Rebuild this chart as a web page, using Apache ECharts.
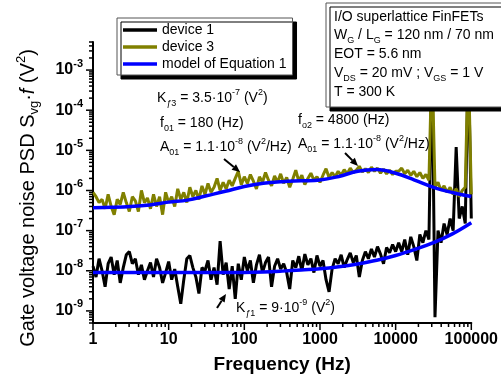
<!DOCTYPE html>
<html>
<head>
<meta charset="utf-8">
<script src="https://cdn.jsdelivr.net/npm/echarts@6/dist/echarts.min.js"></script>
<style>
  html, body { margin: 0; padding: 0; background: #fff; }
  #chart { width: 501px; height: 385px; }
</style>
</head>
<body>
<div id="chart"></div>
<script>
const xMin = 1, xMax = 100000, yMin = 5e-10, yMax = 5e-3;
const xTickLabels = ['1', '10', '100', '1000', '10000', '100000'];
const yTickExponents = ['-9', '-8', '-7', '-6', '-5', '-4', '-3'];

// measured curves, one point every 0.04 decade starting at 1 Hz
const device1 = [
  1.3e-8, 7e-9, 2e-8, 1e-8, 4e-9, 1.5e-8, 2.2e-8, 8e-9, 1.8e-8, 5e-9,
  1.2e-8, 2.5e-8, 3e-8, 1.5e-8, 2e-8, 8e-9, 1.4e-8, 6e-9, 1e-8, 1.6e-8,
  7e-9, 2e-8, 1.2e-8, 5e-9, 9e-9, 1.7e-8, 6e-9, 1.1e-8, 4e-9, 1.5e-9,
  6e-9, 2e-8, 2.4e-8, 1.2e-8, 7e-9, 2.7e-9, 1.2e-8, 1e-8, 1.8e-8, 6e-9,
  1.2e-8, 4.5e-9, 5.5e-8, 8e-9, 1.6e-8, 3.5e-9, 1.3e-8, 2e-9, 1.5e-8, 6e-9,
  2.2e-8, 1e-8, 1.8e-8, 5e-9, 1.4e-8, 2.5e-8, 9e-9, 1.6e-8, 2.2e-8, 4e-9,
  1.3e-8, 2e-8, 1.1e-8, 1.5e-8, 9e-9, 3.5e-9, 1.8e-8, 1.2e-8, 2.3e-8, 1e-8,
  2.6e-8, 1.4e-8, 2e-8, 9e-9, 2.4e-8, 1.3e-8, 1.8e-8, 6e-9, 3e-9, 1.1e-8,
  2e-8, 1.5e-8, 2.5e-8, 1.2e-8, 1.9e-8, 2.8e-8, 1.6e-8, 2.4e-8, 7e-9, 1.8e-8,
  3e-8, 2e-8, 3.5e-8, 2.2e-8, 4e-8, 2.6e-8, 1.5e-8, 3.8e-8, 2.8e-8, 4.5e-8,
  3e-8, 5e-8, 3e-8, 6e-8, 2.5e-8, 7e-8, 4e-8, 1.8e-8, 8e-8, 5e-8,
  1e-7, 6e-8, 3e-3, 7e-10, 1e-7, 5e-8, 1.5e-7, 8e-8, 2e-7, 1e-7,
  1.2e-5, 2e-7, 4e-7, 1.5e-7, 2e-3, 2e-7
];
const device3 = [
  9e-7, 7e-7, 5e-7, 6e-7, 3.5e-7, 8e-7, 4e-7, 2.5e-7, 6e-7, 4.5e-7,
  9e-7, 5e-7, 3e-7, 7e-7, 5.5e-7, 3e-7, 1e-6, 5e-7, 6.5e-7, 3.5e-7,
  8e-7, 4e-7, 7e-7, 2.5e-7, 9e-7, 5e-7, 7e-7, 4e-7, 1.1e-6, 6e-7,
  9e-7, 5e-7, 1.2e-6, 7e-7, 1e-6, 6e-7, 1.3e-6, 8e-7, 1.5e-6, 9e-7,
  1.2e-6, 2e-6, 1e-6, 1.6e-6, 1.1e-6, 1.8e-6, 1.3e-6, 2e-6, 3e-6, 1.4e-6,
  2.2e-6, 1.5e-6, 2.5e-6, 1.7e-6, 1.1e-6, 2.2e-6, 1.6e-6, 2.8e-6, 1.8e-6, 1.3e-6,
  2.3e-6, 1.6e-6, 2.6e-6, 1.5e-6, 2.1e-6, 1.2e-6, 1.9e-6, 3.2e-6, 1.7e-6, 2.4e-6,
  1.4e-6, 2e-6, 2.7e-6, 1.8e-6, 2.2e-6, 1.6e-6, 2.4e-6, 3.5e-6, 2.1e-6, 2.8e-6,
  2.2e-6, 3e-6, 2.4e-6, 3.3e-6, 2.6e-6, 3.6e-6, 2.8e-6, 3.2e-6, 4e-6, 2.9e-6,
  3.5e-6, 2.8e-6, 3.8e-6, 3e-6, 3.6e-6, 2.7e-6, 3.4e-6, 2.6e-6, 3.2e-6, 2.5e-6,
  3e-6, 3e-6, 3.6e-6, 2.6e-6, 3.2e-6, 2.4e-6, 3e-6, 2.2e-6, 2.8e-6, 2e-6,
  2.5e-6, 1.8e-6, 2e-3, 1.2e-6, 1.6e-6, 1e-6, 1.3e-6, 9e-7, 1.2e-6, 8e-7,
  1.1e-6, 7e-7, 1e-6, 1.2e-6, 2e-3, 8e-7
];
// model of Equation 1, one point every quarter decade
const model1 = [
  9.1e-9, 9.1e-9, 9.1e-9, 9.1e-9, 9.1e-9, 9.1e-9, 9.1e-9, 9.1e-9, 9.1e-9, 9.3e-9,
  9.8e-9, 1.05e-8, 1.12e-8, 1.26e-8, 1.48e-8, 1.82e-8, 2.4e-8, 3.39e-8, 5.01e-8, 8.32e-8,
  1.58e-7
];
const model3 = [
  3.72e-7, 3.8e-7, 3.98e-7, 4.37e-7, 5.13e-7, 5.75e-7, 7.41e-7, 9.55e-7, 1.26e-6, 1.51e-6,
  1.66e-6, 1.74e-6, 1.82e-6, 2.24e-6, 3.02e-6, 3.31e-6, 2.69e-6, 1.82e-6, 1.2e-6, 8.9e-7,
  7.1e-7
];

const freq = device1.map((_, i) => Math.pow(10, i * 0.04));
const modelFreq = model1.map((_, i) => Math.pow(10, i * 0.25));
const pairs = (xs, ys) => ys.map((v, i) => [xs[i], v]);

// log ticks: majors at decades, minors at 2..9
const yTicks = [];
for (let k = -10; k <= -3; k++) {
  for (let m = 1; m <= 9; m++) {
    const v = m * Math.pow(10, k);
    if (v >= yMin * 0.999 && v <= yMax * 1.001) yTicks.push([xMin, v, m === 1 ? 1 : 0]);
  }
}
const xTicks = [];
for (let k = 0; k <= 5; k++) {
  for (let m = 1; m <= 9; m++) {
    const v = m * Math.pow(10, k);
    if (v <= xMax * 1.001) xTicks.push([v, yMin, m === 1 ? 1 : 0]);
  }
}
function tickRenderer(onX) {
  return function (params, api) {
    const p = api.coord([api.value(0), api.value(1)]);
    const len = api.value(2) ? 7 : 4;
    const shape = onX
      ? { x1: p[0], y1: p[1], x2: p[0], y2: p[1] + len }
      : { x1: p[0] - len, y1: p[1], x2: p[0], y2: p[1] };
    return { type: 'line', shape: shape, style: { stroke: '#000', lineWidth: 1.5 }, silent: true };
  };
}

const FONT = 'Liberation Sans';
const baseRich = {
  sub: { fontSize: 9, fontFamily: FONT, verticalAlign: 'bottom', lineHeight: 9 },
  subi: { fontSize: 9, fontFamily: FONT, fontStyle: 'italic', verticalAlign: 'bottom', lineHeight: 9 },
  sup: { fontSize: 9, fontFamily: FONT, verticalAlign: 'top', lineHeight: 9 }
};
function label(text, x, y) {
  return {
    type: 'text', x: x, y: y, z: 20,
    style: {
      text: text, fill: '#000', font: '14px "Liberation Sans"', lineHeight: 20,
      verticalAlign: 'middle', align: 'left', rich: baseRich
    }
  };
}
function arrow(tail, tip) {
  const dx = tip[0] - tail[0], dy = tip[1] - tail[1];
  const d = Math.sqrt(dx * dx + dy * dy), ux = dx / d, uy = dy / d;
  const bx = tip[0] - ux * 8, by = tip[1] - uy * 8;
  return [
    { type: 'line', z: 20, shape: { x1: tail[0], y1: tail[1], x2: bx, y2: by }, style: { stroke: '#000', lineWidth: 2 } },
    { type: 'polygon', z: 20, shape: { points: [tip, [bx - uy * 3.5, by + ux * 3.5], [bx + uy * 3.5, by - ux * 3.5]] }, style: { fill: '#000' } }
  ];
}

const chart = echarts.init(document.getElementById('chart'));
chart.setOption({
  animation: false,
  textStyle: { fontFamily: FONT },
  grid: { left: 93, right: 28, top: 42, bottom: 62 },
  legend: {
    data: ['device 1', 'device 3', 'model of Equation 1'],
    orient: 'vertical', left: 117, top: 18, icon: 'rect',
    padding: [4, 6, 3, 6], itemGap: 1, itemWidth: 34, itemHeight: 3.5,
    backgroundColor: '#fff', borderColor: '#555', borderWidth: 1,
    shadowColor: '#000', shadowBlur: 0, shadowOffsetX: 4, shadowOffsetY: 4,
    textStyle: { fontSize: 14, lineHeight: 16, color: '#000', fontFamily: FONT }
  },
  xAxis: {
    type: 'log', min: xMin, max: xMax, logBase: 10,
    name: 'Frequency (Hz)', nameLocation: 'middle', nameGap: 32,
    nameTextStyle: { fontSize: 19, fontWeight: 'bold', color: '#000', fontFamily: FONT },
    axisLine: { lineStyle: { color: '#000', width: 2 } },
    axisTick: { show: false }, splitLine: { show: false },
    axisLabel: {
      margin: 9, fontSize: 16, fontWeight: 'bold', color: '#000', fontFamily: FONT,
      formatter: v => {
        const e = Math.log10(v), k = Math.round(e);
        return Math.abs(e - k) < 1e-6 ? xTickLabels[k] : '';
      }
    }
  },
  yAxis: {
    type: 'log', min: yMin, max: yMax, logBase: 10,
    axisLine: { lineStyle: { color: '#000', width: 2 } },
    axisTick: { show: false }, splitLine: { show: false },
    axisLabel: {
      margin: 10, color: '#000',
      formatter: v => {
        const e = Math.log10(v), k = Math.round(e);
        return Math.abs(e - k) < 1e-6 ? '{b|10}{s|' + yTickExponents[k + 9] + '}' : '';
      },
      rich: {
        b: { fontSize: 16, fontWeight: 'bold', fontFamily: FONT, lineHeight: 24, verticalAlign: 'middle' },
        s: { fontSize: 11, fontWeight: 'bold', fontFamily: FONT, lineHeight: 11, verticalAlign: 'top' }
      }
    }
  },
  series: [
    { name: 'device 1', type: 'line', data: pairs(freq, device1), symbol: 'none', z: 3,
      lineStyle: { color: '#000', width: 3 }, itemStyle: { color: '#000' } },
    { name: 'device 3', type: 'line', data: pairs(freq, device3), symbol: 'none', z: 4,
      lineStyle: { color: '#808000', width: 3 }, itemStyle: { color: '#808000' } },
    { name: 'model of Equation 1', type: 'line', data: pairs(modelFreq, model1), symbol: 'none', smooth: 0.4, z: 5,
      lineStyle: { color: '#0000ff', width: 3.5 }, itemStyle: { color: '#0000ff' } },
    { name: 'model of Equation 1', type: 'line', data: pairs(modelFreq, model3), symbol: 'none', smooth: 0.4, z: 5,
      lineStyle: { color: '#0000ff', width: 3.5 }, itemStyle: { color: '#0000ff' } },
    { type: 'custom', data: yTicks, renderItem: tickRenderer(false), silent: true, clip: false, z: 6 },
    { type: 'custom', data: xTicks, renderItem: tickRenderer(true), silent: true, clip: false, z: 6 }
  ],
  graphic: [
    {
      type: 'text', x: 28, y: 198, rotation: Math.PI / 2, z: 20,
      style: {
        text: 'Gate voltage noise PSD S{sub|vg}·{it|f} (V{sup|2})', fill: '#000',
        font: '20px "Liberation Sans"', lineHeight: 26, align: 'center', verticalAlign: 'middle',
        rich: {
          sub: { fontSize: 13, fontFamily: FONT, verticalAlign: 'bottom', lineHeight: 13 },
          it: { fontSize: 20, fontFamily: FONT, fontStyle: 'italic', lineHeight: 26 },
          sup: { fontSize: 13, fontFamily: FONT, verticalAlign: 'top', lineHeight: 13 }
        }
      }
    },
    {
      type: 'rect', z: 19, shape: { x: 326, y: 3, width: 180, height: 104 },
      style: { fill: '#fff', stroke: '#555', lineWidth: 1, shadowColor: '#000', shadowBlur: 0, shadowOffsetX: 4, shadowOffsetY: 4 }
    },
    label('I/O superlattice FinFETs', 334, 17),
    label('W{sub|G} / L{sub|G} = 120 nm / 70 nm', 334, 35),
    label('EOT = 5.6 nm', 334, 54),
    label('V{sub|DS} = 20 mV ; V{sub|GS} = 1 V', 334, 73),
    label('T = 300 K', 334, 92),
    label('K{subi|ƒ}{sub|3} = 3.5·10{sup|-7} (V{sup|2})', 157, 98),
    label('f{sub|01} = 180 (Hz)', 160, 123),
    label('A{sub|01} = 1.1·10{sup|-8} (V{sup|2}/Hz)', 160, 147),
    label('f{sub|o2} = 4800 (Hz)', 298, 120),
    label('A{sub|01} = 1.1·10{sup|-8} (V{sup|2}/Hz)', 298, 144),
    label('K{subi|ƒ}{sub|1} = 9·10{sup|-9} (V{sup|2})', 236, 308)
  ].concat(arrow([224, 159], [240, 172]), arrow([345, 153], [358, 166]), arrow([217, 308], [226, 294]))
});
</script>
</body>
</html>
